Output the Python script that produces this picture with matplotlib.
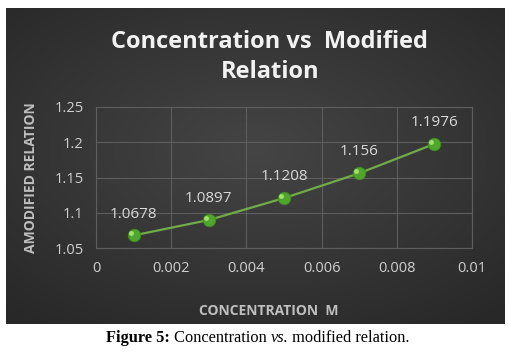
import numpy as np
import matplotlib.pyplot as plt

# data
conc = [0.001, 0.003, 0.005, 0.007, 0.009]
relation = [1.0678, 1.0897, 1.1208, 1.156, 1.1976]
point_labels = ['1.0678', '1.0897', '1.1208', '1.156', '1.1976']

W, H = 509, 354
fig = plt.figure(figsize=(W / 100, H / 100), dpi=100)
fig.patch.set_facecolor('white')

# dark chart panel with a soft radial glow
bg = fig.add_axes([6 / W, 1 - 324 / H, 499 / W, 316 / H])
yy, xx = np.mgrid[-1:1:200j, -1:1:300j]
r = np.sqrt((xx / 1.2) ** 2 + ((yy + 0.1) / 1.1) ** 2)
shade = np.clip(0.27 - 0.09 * r, 0.16, 0.27)
bg.imshow(np.dstack([shade, shade, shade]), aspect='auto', extent=[0, 1, 0, 1])
bg.set_xticks([])
bg.set_yticks([])
for s in bg.spines.values():
    s.set_visible(False)

ax = fig.add_axes([96 / W, 1 - 248 / H, (472 - 96) / W, (248 - 107) / H])
ax.patch.set_alpha(0)
ax.plot(conc, relation, color='#70ad47', lw=1.6, zorder=3)
ax.plot(conc, relation, 'o', ms=9, color='#4ea72a', mec='#3d8a1f', mew=0.6, zorder=4)
ax.plot(np.array(conc) - 0.00008, np.array(relation) + 0.003, 'o', ms=3.5,
        color='#b6f07c', mec='none', alpha=0.8, zorder=5)

for x, y, t in zip(conc, relation, point_labels):
    ax.annotate(t, (x, y), xytext=(0, 10), textcoords='offset points',
                ha='center', va='bottom', color='#d9d9d9', fontsize=11,
                family='Open Sans')

ax.set_xlim(0, 0.01)
ax.set_ylim(1.05, 1.25)
ax.set_xticks([0, 0.002, 0.004, 0.006, 0.008, 0.01])
ax.set_xticklabels(['0', '0.002', '0.004', '0.006', '0.008', '0.01'])
ax.set_yticks([1.05, 1.1, 1.15, 1.2, 1.25])
ax.set_yticklabels(['1.05', '1.1', '1.15', '1.2', '1.25'])
ax.grid(True, color='#5e5e5e', lw=0.8)
ax.set_axisbelow(True)
for s in ax.spines.values():
    s.set_color('#5e5e5e')
    s.set_linewidth(0.8)
ax.tick_params(length=0, colors='#d0d0d0', labelsize=10.5, pad=9)
for lab in ax.get_xticklabels() + ax.get_yticklabels():
    lab.set_family('Open Sans')

ax.set_xlabel('CONCENTRATION  M', color='#bfbfbf', fontsize=10,
              fontweight='bold', family='Open Sans')
ax.xaxis.set_label_coords(0.46, -0.40)
ax.set_ylabel('AMODIFIED RELATION', color='#bfbfbf', fontsize=10,
              fontweight='bold', family='Open Sans', labelpad=12)

fig.text(0.53, 1 - 57 / H, 'Concentration vs  Modified\nRelation', ha='center',
         va='center', color='#f2f2f2', fontsize=17, fontweight='bold',
         family='Open Sans', linespacing=1.3)

# caption below the chart
fig.canvas.draw()
renderer = fig.canvas.get_renderer()
parts = [('Figure 5:', 'bold', 'normal'), (' Concentration ', 'normal', 'normal'),
         ('vs.', 'normal', 'italic'), (' modified relation.', 'normal', 'normal')]
xpix = 106
for txt, weight, style in parts:
    t = fig.text(xpix / W, 1 - 342 / H, txt, ha='left', va='baseline',
                 fontsize=11.8, family='Liberation Serif', fontweight=weight,
                 fontstyle=style, color='black')
    bb = t.get_window_extent(renderer)
    xpix += bb.width

fig.savefig('out.png', dpi=100, facecolor='white')
